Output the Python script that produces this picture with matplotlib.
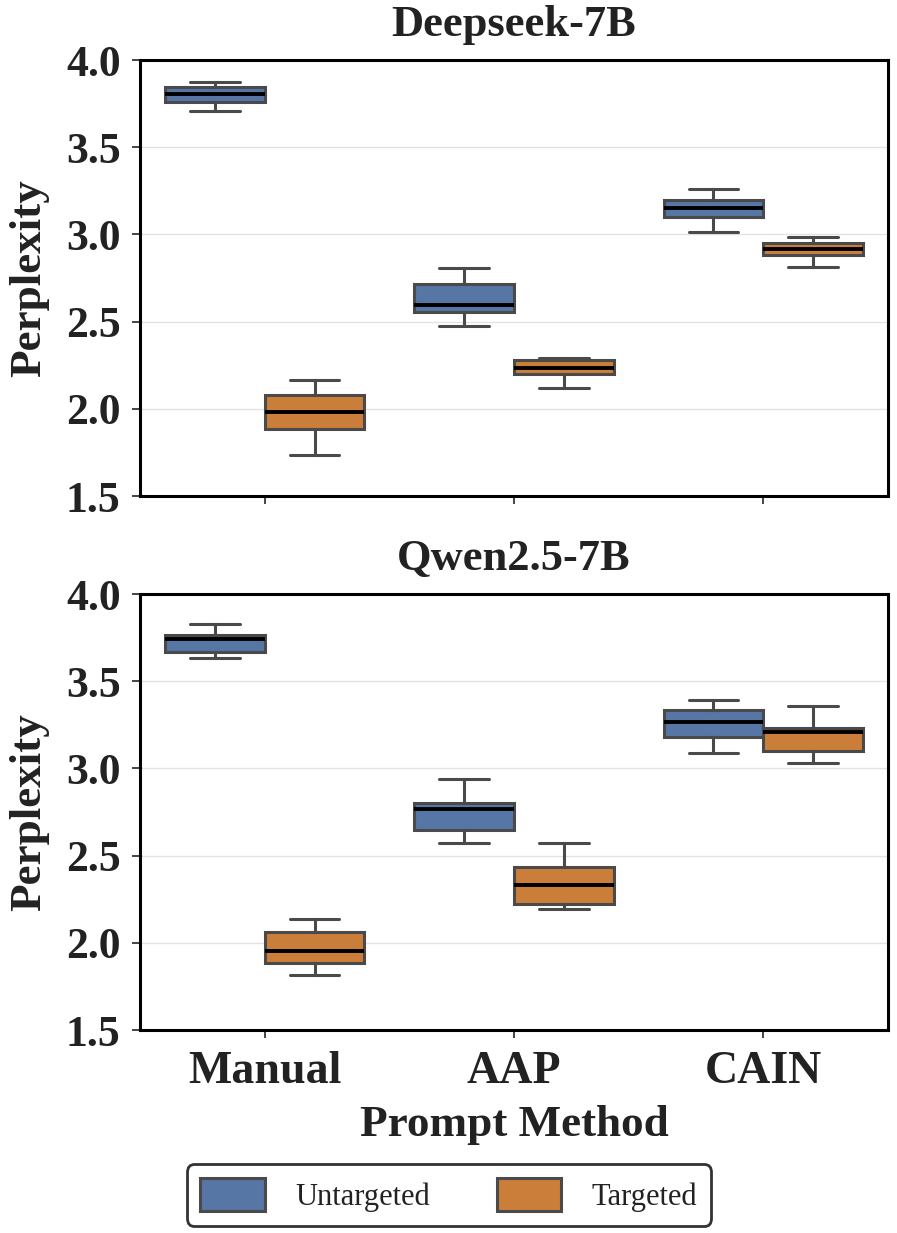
import matplotlib
matplotlib.use("Agg")
import matplotlib.pyplot as plt
from matplotlib.patches import Patch

plt.rcParams['font.family'] = ['Liberation Serif', 'DejaVu Serif']

methods = ["Manual", "AAP", "CAIN"]
groups = ["Untargeted", "Targeted"]
models = ["Deepseek-7B", "Qwen2.5-7B"]

# stats per model -> group -> [whislo, q1, med, q3, whishi] for each method
deepseek_untargeted = [[3.71, 3.76, 3.805, 3.845, 3.875],
                       [2.477, 2.553, 2.593, 2.714, 2.807],
                       [3.012, 3.102, 3.150, 3.197, 3.260]]
deepseek_targeted = [[1.735, 1.884, 1.983, 2.079, 2.165],
                     [2.121, 2.200, 2.232, 2.280, 2.293],
                     [2.815, 2.880, 2.914, 2.949, 2.985]]
qwen_untargeted = [[3.635, 3.669, 3.740, 3.767, 3.826],
                   [2.570, 2.647, 2.765, 2.803, 2.937],
                   [3.090, 3.178, 3.264, 3.335, 3.392]]
qwen_targeted = [[1.817, 1.886, 1.953, 2.064, 2.136],
                 [2.196, 2.222, 2.331, 2.436, 2.574],
                 [3.029, 3.101, 3.207, 3.233, 3.360]]

data = {
    "Deepseek-7B": [deepseek_untargeted, deepseek_targeted],
    "Qwen2.5-7B": [qwen_untargeted, qwen_targeted],
}
colors = ["#5676A6", "#CB7E3A"]
edge = "#4a4a4a"

fig = plt.figure(figsize=(8.97, 12.33), dpi=100)
ax1 = fig.add_axes([140/897, 1 - 496/1233, 748/897, 436/1233])
ax2 = fig.add_axes([140/897, 1 - 1030/1233, 748/897, 436/1233], sharex=ax1)

for ax, model in zip([ax1, ax2], models):
    for g, (series, col) in enumerate(zip(data[model], colors)):
        stats = []
        for s in series:
            wl, q1, med, q3, wh = s
            stats.append(dict(whislo=wl, q1=q1, med=med, q3=q3, whishi=wh, fliers=[]))
        pos = [i - 0.2 + 0.4 * g for i in range(len(methods))]
        ax.bxp(stats, positions=pos, widths=0.4, patch_artist=True, showfliers=False,
               boxprops=dict(facecolor=col, edgecolor=edge, linewidth=2.2),
               whiskerprops=dict(color=edge, linewidth=2.2),
               capprops=dict(color=edge, linewidth=2.2, solid_capstyle='round'),
               medianprops=dict(color="black", linewidth=2.8),
               manage_ticks=False, zorder=3)
    ax.set_xlim(-0.5, 2.5)
    ax.set_ylim(1.5, 4.0)
    ax.set_yticks([1.5, 2.0, 2.5, 3.0, 3.5, 4.0])
    ax.set_yticklabels(["1.5", "2.0", "2.5", "3.0", "3.5", "4.0"])
    ax.yaxis.grid(True, color="#e3e3e3", linewidth=1.0, zorder=0)
    ax.set_axisbelow(True)
    for sp in ax.spines.values():
        sp.set_color("black")
        sp.set_linewidth(2.2)
    ax.tick_params(axis='both', direction='out', length=6, width=1.4, color="#444444",
                   labelcolor="#222222", pad=8)
    ax.tick_params(axis='y', labelsize=31.5)
    for lab in ax.get_yticklabels():
        lab.set_fontweight('bold')
    ax.set_ylabel("Perplexity", fontsize=32.5, fontweight='bold', color="#222222", labelpad=12)
    ax.set_title(model, fontsize=32, fontweight='bold', color="#222222", pad=17)

ax1.set_xticks(range(len(methods)))
ax1.tick_params(axis='x', labelbottom=False)
ax2.set_xticks(range(len(methods)))
ax2.set_xticklabels(methods, fontsize=33, fontweight='bold', color="#222222")
ax2.tick_params(axis='x', pad=9)
ax2.set_xlabel("Prompt Method", fontsize=32.5, fontweight='bold', color="#222222", labelpad=9)

handles = [Patch(facecolor=c, edgecolor=edge, linewidth=2.2, label=g) for c, g in zip(colors, groups)]
leg = fig.legend(handles=handles, loc='center', bbox_to_anchor=(449/897, 1 - 1195/1233), ncol=2,
                 fontsize=22, frameon=True, fancybox=True, edgecolor='black',
                 handlelength=2.1, handleheight=1.3, columnspacing=2.2, handletextpad=1.0,
                 borderpad=0.45, borderaxespad=0.0)
leg.get_frame().set_linewidth(2.0)
leg.get_frame().set_boxstyle("round", pad=0, rounding_size=0.25)
for t in leg.get_texts():
    t.set_color("#222222")

fig.savefig("out.png", dpi=100)
